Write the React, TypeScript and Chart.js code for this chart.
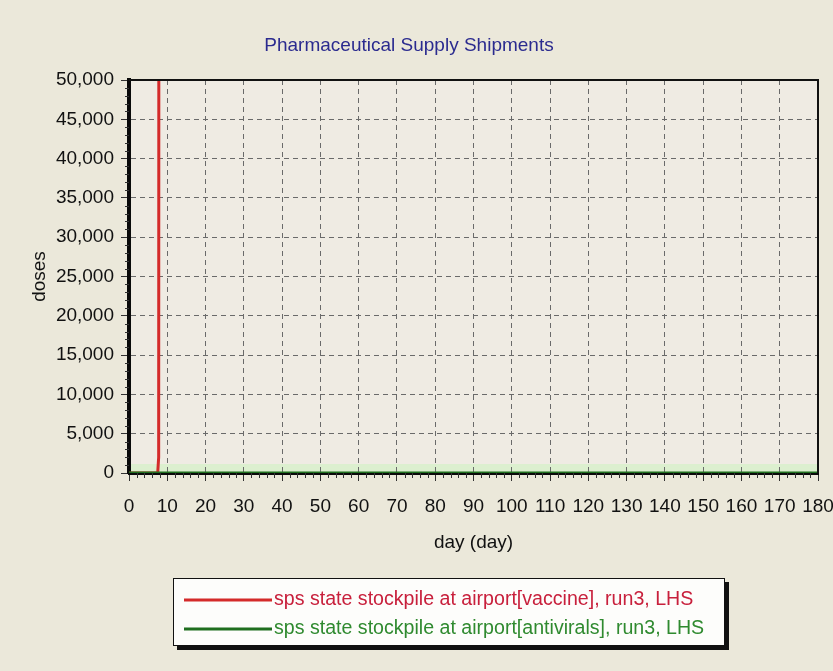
import React, { useEffect, useRef } from "react";
import { Chart, registerables } from "chart.js";

Chart.register(...registerables);

const chartTitle = "Pharmaceutical Supply Shipments";
const xAxisTitle = "day (day)";
const yAxisTitle = "doses";

const seriesNames = [
  "sps state stockpile at airport[vaccine], run3, LHS",
  "sps state stockpile at airport[antivirals], run3, LHS",
];
const seriesColors = ["#d42a2a", "#1f6e1f"];
const seriesTextColors = ["#c8203c", "#2f8a2f"];

const vaccineDays = [0, 7.5, 7.75, 8, 180];
const vaccineDoses = [0, 0, 2000, 300000, 300000];
const antiviralDays = [0, 180];
const antiviralDoses = [0, 0];

const xMin = 0;
const xMax = 180;
const xStep = 10;
const xMinorStep = 2;
const yMin = 0;
const yMax = 50000;
const yStep = 5000;
const yMinorStep = 1000;

const FONT = "'Liberation Sans', Arial, sans-serif";

const bgPlugin = {
  id: "bg",
  beforeDraw(chart: any) {
    const { ctx, width, height, chartArea } = chart;
    ctx.save();
    ctx.fillStyle = "#ebe8da";
    ctx.fillRect(0, 0, width, height);
    ctx.fillStyle = "#efebe3";
    ctx.fillRect(chartArea.left, chartArea.top, chartArea.right - chartArea.left, chartArea.bottom - chartArea.top);
    ctx.fillStyle = "#dcefcf";
    ctx.fillRect(chartArea.left, chartArea.bottom - 9, chartArea.right - chartArea.left, 9);
    ctx.restore();
  },
};

const framePlugin = {
  id: "frame",
  afterDraw(chart: any) {
    const { ctx, chartArea, scales } = chart;
    ctx.save();
    ctx.strokeStyle = "#111";
    ctx.lineWidth = 2;
    ctx.beginPath();
    ctx.moveTo(chartArea.left, chartArea.top);
    ctx.lineTo(chartArea.right, chartArea.top);
    ctx.lineTo(chartArea.right, chartArea.bottom);
    ctx.stroke();
    // minor ticks
    ctx.lineWidth = 1;
    ctx.strokeStyle = "#333";
    ctx.beginPath();
    const xs = scales.x;
    for (let v = xMin; v <= xMax; v += xMinorStep) {
      if (v % xStep === 0) continue;
      const px = Math.round(xs.getPixelForValue(v)) + 0.5;
      ctx.moveTo(px, chartArea.bottom);
      ctx.lineTo(px, chartArea.bottom + 5);
    }
    const ys = scales.y;
    for (let v = yMin; v <= yMax; v += yMinorStep) {
      if (v % yStep === 0) continue;
      const py = Math.round(ys.getPixelForValue(v)) + 0.5;
      ctx.moveTo(chartArea.left - 4, py);
      ctx.lineTo(chartArea.left, py);
    }
    ctx.stroke();
    ctx.restore();
  },
};

const legendPlugin = {
  id: "boxLegend",
  afterDraw(chart: any) {
    const { ctx } = chart;
    const boxX = 173;
    const boxY = 578;
    const boxW = 551;
    const boxH = 67;
    ctx.save();
    ctx.fillStyle = "#fdfdfb";
    ctx.fillRect(boxX, boxY, boxW, boxH);
    ctx.strokeStyle = "#111";
    ctx.lineWidth = 1;
    ctx.strokeRect(boxX + 0.5, boxY + 0.5, boxW, boxH);
    ctx.lineWidth = 4;
    ctx.beginPath();
    ctx.moveTo(boxX + boxW + 3, boxY + 4);
    ctx.lineTo(boxX + boxW + 3, boxY + boxH + 3);
    ctx.lineTo(boxX + 4, boxY + boxH + 3);
    ctx.stroke();
    chart.data.datasets.forEach((ds: any, i: number) => {
      const rowY = boxY + 22 + i * 29;
      ctx.strokeStyle = ds.borderColor;
      ctx.lineWidth = 3;
      ctx.beginPath();
      ctx.moveTo(boxX + 11, rowY);
      ctx.lineTo(boxX + 99, rowY);
      ctx.stroke();
      ctx.fillStyle = seriesTextColors[i];
      ctx.font = `19.6px ${FONT}`;
      ctx.textBaseline = "middle";
      ctx.textAlign = "left";
      ctx.fillText(ds.label, boxX + 101, rowY);
    });
    ctx.restore();
  },
};

export default function App() {
  const ref = useRef<HTMLCanvasElement | null>(null);
  useEffect(() => {
    if (!ref.current) return;
    const chart = new Chart(ref.current, {
      type: "line",
      data: {
        datasets: [
          {
            label: seriesNames[0],
            data: vaccineDays.map((d, i) => ({ x: d, y: vaccineDoses[i] })),
            borderColor: seriesColors[0],
            backgroundColor: seriesColors[0],
            borderWidth: 3,
            pointRadius: 0,
            tension: 0,
            order: 1,
          },
          {
            label: seriesNames[1],
            data: antiviralDays.map((d, i) => ({ x: d, y: antiviralDoses[i] })),
            borderColor: seriesColors[1],
            backgroundColor: seriesColors[1],
            borderWidth: 3,
            pointRadius: 0,
            tension: 0,
            order: 0,
          },
        ],
      },
      options: {
        animation: false,
        responsive: true,
        maintainAspectRatio: false,
        layout: { padding: { left: 0, right: 15, top: 0, bottom: 108 } },
        plugins: {
          legend: { display: false },
          tooltip: { enabled: false },
          title: {
            display: true,
            text: chartTitle,
            color: "#2b2b8f",
            font: { family: FONT, size: 19, weight: "normal" },
            padding: { top: 34, bottom: 23.2 },
          },
        },
        scales: {
          x: {
            type: "linear",
            min: xMin,
            max: xMax,
            afterFit(scale: any) {
              scale.height = 90;
              scale.paddingLeft = 0;
              scale.paddingRight = 0;
            },
            ticks: {
              stepSize: xStep,
              color: "#111",
              font: { family: FONT, size: 19 },
              padding: 14,
              maxRotation: 0,
              autoSkip: false,
            },
            grid: {
              color: "#6a6a6a",
              lineWidth: 1,
              tickLength: 8,
              tickColor: "#333",
              tickWidth: 1,
              tickBorderDash: [],
            },
            border: { display: true, color: "#0a0a0a", width: 3, dash: [5, 4] },
            title: {
              display: true,
              text: xAxisTitle,
              color: "#111",
              font: { family: FONT, size: 19 },
              padding: { top: 0, bottom: 9 },
            },
          },
          y: {
            type: "linear",
            min: yMin,
            max: yMax,
            afterFit(scale: any) {
              scale.width = 129;
              scale.paddingTop = 0;
              scale.paddingBottom = 0;
            },
            ticks: {
              stepSize: yStep,
              color: "#111",
              font: { family: FONT, size: 19 },
              padding: 7,
              callback: (v: any) => Number(v).toLocaleString("en-US"),
            },
            grid: {
              color: "#6a6a6a",
              lineWidth: 1,
              tickLength: 8,
              tickColor: "#333",
              tickWidth: 1,
              tickBorderDash: [],
            },
            border: { display: true, color: "#0a0a0a", width: 4, dash: [5, 4] },
            title: {
              display: true,
              text: yAxisTitle,
              color: "#111",
              font: { family: FONT, size: 19 },
              padding: { top: 28, bottom: 0 },
            },
          },
        },
      },
      plugins: [bgPlugin, framePlugin, legendPlugin],
    });
    return () => chart.destroy();
  }, []);
  return (
    <div style={{ position: "absolute", left: 0, top: 0, width: 833, height: 671 }}>
      <canvas ref={ref} />
    </div>
  );
}
